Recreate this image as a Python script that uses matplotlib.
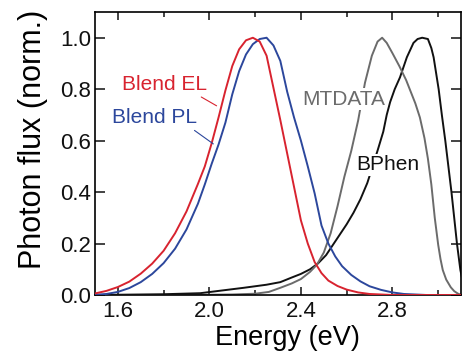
import matplotlib.pyplot as plt
from matplotlib.ticker import MultipleLocator

plt.rcParams['font.family'] = ['Liberation Sans', 'DejaVu Sans']

# spectra (energy in eV, normalised photon flux)
el_energy = [1.50, 1.55, 1.60, 1.65, 1.70, 1.75, 1.80, 1.85, 1.90, 1.95, 1.98, 2.01,
             2.04, 2.07, 2.10, 2.13, 2.16, 2.19, 2.22, 2.25, 2.28, 2.31, 2.34, 2.37,
             2.40, 2.43, 2.46, 2.49, 2.52, 2.56, 2.60, 2.65, 2.70, 2.80, 3.12]
el_flux = [0.006, 0.016, 0.031, 0.052, 0.083, 0.122, 0.172, 0.240, 0.325, 0.432, 0.50,
           0.59, 0.69, 0.795, 0.89, 0.955, 0.99, 1.0, 0.985, 0.93, 0.805, 0.68, 0.55,
           0.42, 0.29, 0.20, 0.128, 0.085, 0.056, 0.035, 0.021, 0.010, 0.004, 0.0, 0.0]

pl_energy = [1.50, 1.55, 1.60, 1.65, 1.70, 1.75, 1.80, 1.85, 1.90, 1.95, 1.98, 2.01,
             2.04, 2.07, 2.10, 2.13, 2.16, 2.19, 2.22, 2.25, 2.28, 2.31, 2.34, 2.37,
             2.40, 2.43, 2.46, 2.49, 2.52, 2.55, 2.58, 2.62, 2.66, 2.70, 2.75, 2.80,
             2.85, 2.95, 3.12]
pl_flux = [0.001, 0.004, 0.012, 0.027, 0.050, 0.082, 0.124, 0.180, 0.255, 0.355, 0.43,
           0.51, 0.585, 0.67, 0.78, 0.87, 0.935, 0.975, 0.995, 1.0, 0.97, 0.91, 0.79,
           0.69, 0.60, 0.50, 0.395, 0.27, 0.20, 0.15, 0.112, 0.078, 0.053, 0.034, 0.02,
           0.01, 0.004, 0.0, 0.0]

mt_energy = [1.50, 1.90, 2.10, 2.20, 2.26, 2.31, 2.36, 2.40, 2.44, 2.47, 2.50, 2.53,
             2.56, 2.59, 2.62, 2.65, 2.68, 2.71, 2.735, 2.755, 2.775, 2.80, 2.83, 2.86,
             2.88, 2.90, 2.92, 2.94, 2.955, 2.97, 2.985, 3.00, 3.01, 3.02, 3.035, 3.055,
             3.07, 3.085, 3.10, 3.12]
mt_flux = [0.0, 0.0, 0.002, 0.005, 0.012, 0.028, 0.045, 0.062, 0.09, 0.118, 0.165, 0.24,
           0.345, 0.46, 0.56, 0.678, 0.825, 0.93, 0.985, 1.0, 0.98, 0.94, 0.89, 0.835,
           0.79, 0.745, 0.69, 0.61, 0.53, 0.43, 0.30, 0.195, 0.14, 0.097, 0.06, 0.03,
           0.015, 0.006, 0.0, 0.0]

bp_energy = [1.50, 1.80, 1.96, 2.05, 2.15, 2.25, 2.31, 2.36, 2.40, 2.44, 2.475, 2.51,
             2.54, 2.57, 2.60, 2.63, 2.66, 2.69, 2.71, 2.738, 2.76, 2.775, 2.79, 2.81,
             2.833, 2.863, 2.892, 2.91, 2.93, 2.955, 2.97, 2.98, 3.002, 3.016, 3.031,
             3.058, 3.082, 3.097, 3.11, 3.13]
bp_flux = [0.0, 0.003, 0.007, 0.017, 0.028, 0.04, 0.05, 0.068, 0.082, 0.10, 0.123, 0.155,
           0.195, 0.235, 0.275, 0.32, 0.372, 0.435, 0.49, 0.57, 0.635, 0.70, 0.75, 0.80,
           0.846, 0.924, 0.98, 0.995, 1.0, 0.995, 0.96, 0.924, 0.80, 0.70, 0.60, 0.40,
           0.20, 0.097, 0.04, 0.0]

red = '#d8232f'
blue = '#2c479c'
grey = '#6b6b6b'

fig = plt.figure(figsize=(4.62, 3.53), dpi=100)
ax = fig.add_axes([0.2056, 0.1643, 0.7924, 0.8017])

ax.plot(bp_energy, bp_flux, c='#111111', lw=1.4, zorder=2)
ax.plot(mt_energy, mt_flux, c=grey, lw=1.4, zorder=2)
ax.plot(pl_energy, pl_flux, c=blue, lw=1.4, zorder=3)
ax.plot(el_energy, el_flux, c=red, lw=1.4, zorder=3)

ax.set_xlim(1.5, 3.1)
ax.set_ylim(0, 1.1)
ax.xaxis.set_major_locator(MultipleLocator(0.4))
ax.xaxis.set_minor_locator(MultipleLocator(0.2))
ax.yaxis.set_major_locator(MultipleLocator(0.2))
ax.tick_params(axis='both', which='both', direction='in', top=True, right=True,
               labelsize=16, width=1.1, colors='#111111')
ax.tick_params(axis='x', which='major', length=5.5, pad=4)
ax.tick_params(axis='x', which='minor', length=3.5)
ax.tick_params(axis='y', which='major', length=7, pad=3)
for s in ax.spines.values():
    s.set_linewidth(1.2)
ax.xaxis.set_major_formatter(plt.FuncFormatter(lambda v, p: f'{v:.1f}'))
ax.yaxis.set_major_formatter(plt.FuncFormatter(lambda v, p: f'{v:.1f}'))

ax.set_xlabel('Energy (eV)', fontsize=19.5)
ax.set_ylabel('Photon flux (norm.)', fontsize=22)
ax.xaxis.set_label_coords(0.527, -0.105)
ax.yaxis.set_label_coords(-0.128, 0.55)

# curve labels
ax.text(1.619, 0.795, 'Blend EL', color=red, fontsize=15, va='baseline')
ax.text(1.575, 0.668, 'Blend PL', color=blue, fontsize=15, va='baseline')
ax.annotate('', xy=(2.042, 0.730), xytext=(1.954, 0.775),
            arrowprops=dict(arrowstyle='-', color=red, lw=0.8))
ax.annotate('', xy=(2.027, 0.581), xytext=(1.925, 0.646),
            arrowprops=dict(arrowstyle='-', color=blue, lw=0.8))
box = dict(facecolor='white', edgecolor='none', pad=1)
ax.text(2.405, 0.740, 'MTDATA', color=grey, fontsize=15, va='baseline', bbox=box, zorder=5)
ax.text(2.643, 0.484, 'BPhen', color='#111111', fontsize=15, va='baseline', bbox=box, zorder=5)

fig.savefig('out.png', dpi=100)
